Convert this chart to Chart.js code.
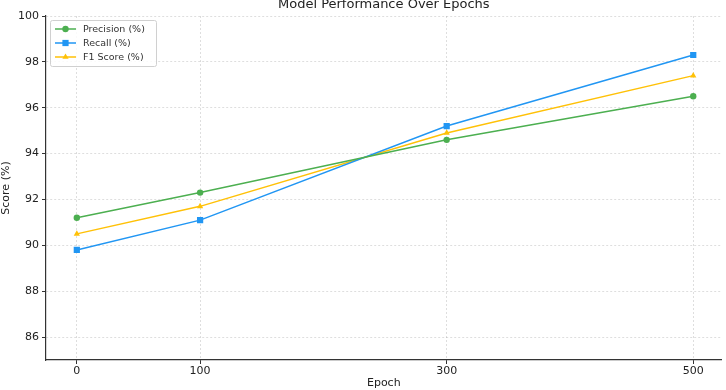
<!DOCTYPE html>
<html>
<head>
<meta charset="utf-8">
<script src="https://cdn.jsdelivr.net/npm/chart.js@4/dist/chart.umd.min.js"></script>
<style>
  html, body { margin: 0; padding: 0; background: #fff; }
  #wrap { width: 726px; height: 390px; }
</style>
</head>
<body>
<div id="wrap"><canvas id="perf-chart" width="726" height="390"></canvas></div>
<script>
// Values
const epochs = [0, 100, 300, 500];
const precision = [91.2, 92.3, 94.6, 96.5];
const recall = [89.8, 91.1, 95.2, 98.3];
const f1Score = [90.5, 91.7, 94.9, 97.4];
const seriesLabels = ['Precision (%)', 'Recall (%)', 'F1 Score (%)'];
const xTicks = [0, 100, 300, 500];
const yTicks = [86, 88, 90, 92, 94, 96, 98, 100];

const FONT = "'DejaVu Sans', sans-serif";
const colors = ['#4CAF50', '#2196F3', '#FFC107'];
const markers = ['circle', 'rect', 'triangle'];
const markerSizes = [3.2, 4.4, 3.6];

function toPoints(values) {
    return values.map((v, i) => ({ x: epochs[i], y: v }));
}

// Title and matplotlib-style legend (line + marker samples)
const decorPlugin = {
    id: 'decor',
    afterDraw(chart) {
        const ctx = chart.ctx;
        const area = chart.chartArea;
        ctx.save();
        ctx.fillStyle = '#222';
        ctx.font = '13px ' + FONT;
        ctx.textAlign = 'center';
        ctx.textBaseline = 'middle';
        ctx.fillText('Model Performance Over Epochs', (area.left + area.right) / 2, 5);

        const bx = area.left + 4, by = area.top + 4, bw = 106, bh = 46;
        ctx.fillStyle = 'rgba(255,255,255,0.85)';
        ctx.strokeStyle = '#d0d0d0';
        ctx.lineWidth = 1;
        ctx.beginPath();
        ctx.roundRect(bx + 0.5, by + 0.5, bw, bh, 2);
        ctx.fill();
        ctx.stroke();

        ctx.font = '9.5px ' + FONT;
        ctx.textAlign = 'left';
        seriesLabels.forEach((label, i) => {
            const y = by + 9 + i * 14;
            ctx.strokeStyle = colors[i];
            ctx.lineWidth = 1.5;
            ctx.beginPath();
            ctx.moveTo(bx + 5, y);
            ctx.lineTo(bx + 26, y);
            ctx.stroke();
            ctx.fillStyle = colors[i];
            Chart.helpers.drawPoint(ctx, {
                pointStyle: markers[i], radius: markerSizes[i], rotation: 0, borderWidth: 0
            }, bx + 15.5, y);
            ctx.fillStyle = '#333';
            ctx.fillText(label, bx + 33, y + 0.5);
        });
        ctx.restore();
    }
};

const datasets = [precision, recall, f1Score].map((values, i) => ({
    label: seriesLabels[i],
    data: toPoints(values),
    borderColor: colors[i],
    backgroundColor: colors[i],
    borderWidth: 1.5,
    pointStyle: markers[i],
    pointRadius: markerSizes[i],
    pointBorderWidth: 0,
    tension: 0
}));

const gridStyle = {
    color: 'rgba(0,0,0,0.13)',
    tickColor: '#333',
    tickLength: 4,
    tickBorderDash: [],
    lineWidth: 1
};

new Chart(document.getElementById('perf-chart').getContext('2d'), {
    type: 'line',
    data: { datasets: datasets },
    options: {
        responsive: false,
        maintainAspectRatio: false,
        animation: false,
        layout: { padding: { top: 16, right: 0, left: 0, bottom: 0 } },
        plugins: {
            legend: { display: false },
            title: { display: false },
            tooltip: { enabled: false }
        },
        scales: {
            x: {
                type: 'linear',
                min: -25,
                max: 523,
                afterBuildTicks: (scale) => { scale.ticks = xTicks.map(v => ({ value: v })); },
                afterFit: (scale) => { scale.height = 30; },
                grid: gridStyle,
                border: { display: true, color: '#333', width: 1.2, dash: [2, 2] },
                ticks: { color: '#222', font: { family: FONT, size: 11 }, padding: 1, maxRotation: 0 },
                title: {
                    display: true, text: 'Epoch', color: '#222',
                    font: { family: FONT, size: 11 }, padding: { top: 0, bottom: 0 }
                }
            },
            y: {
                min: 85,
                max: 100,
                afterBuildTicks: (scale) => { scale.ticks = yTicks.map(v => ({ value: v })); },
                afterFit: (scale) => { scale.width = 46; },
                grid: gridStyle,
                border: { display: true, color: '#333', width: 1.2, dash: [2, 2] },
                ticks: { color: '#222', font: { family: FONT, size: 11 }, padding: 3 },
                title: {
                    display: true, text: 'Score (%)', color: '#222',
                    font: { family: FONT, size: 11 }, padding: { top: 0, bottom: 1 }
                }
            }
        }
    },
    plugins: [decorPlugin]
});
</script>
</body>
</html>
